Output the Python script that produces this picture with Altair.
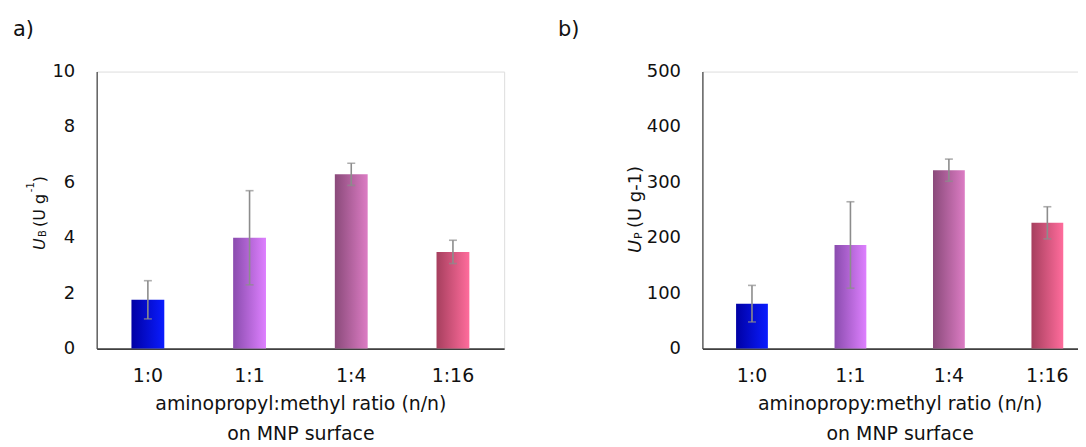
import altair as alt
import pandas as pd

# ---- data ----
cats = ["1:0", "1:1", "1:4", "1:16"]
ub_mean = [1.76, 4.0, 6.29, 3.49]
ub_err = [0.69, 1.70, 0.40, 0.42]
up_mean = [81, 187, 322, 227]
up_err = [33, 78, 20, 29]
ub_ticks = [0, 2, 4, 6, 8, 10]
up_ticks = [0, 100, 200, 300, 400, 500]
grad_left = ["#0000a4", "#8a4cae", "#8a4a7a", "#a63f5e"]
grad_right = ["#0a1cff", "#de80ff", "#dc7cc4", "#ff6c9c"]

FONT = "DejaVu Sans"
TXT = "#111111"


def text_piece(t, x, y, size, style="normal"):
    return alt.Chart(pd.DataFrame({"t": [t]})).mark_text(
        angle=270, align="left", baseline="alphabetic", fontSize=size,
        fontStyle=style, font=FONT, color=TXT
    ).encode(text="t:N", x=alt.value(x), y=alt.value(y))


def panel(mean, err, ticks, width, pieces, letter, letter_x, xtitle):
    df = pd.DataFrame({"cat": cats, "v": mean, "e": err})
    base = alt.Chart(df).transform_calculate(
        lo="datum.v - datum.e", hi="datum.v + datum.e"
    )
    xenc = alt.X(
        "cat:N", sort=cats,
        scale=alt.Scale(paddingInner=0.677, paddingOuter=0.342),
        axis=alt.Axis(title=xtitle, labelAngle=0, ticks=False,
                      domainColor="#404040", domainWidth=1.8,
                      labelPadding=18, titlePadding=9, labelFontSize=19,
                      titleFontSize=19, titleFontWeight="normal",
                      titleLineHeight=30, labelColor=TXT, titleColor=TXT,
                      labelFont=FONT, titleFont=FONT),
    )
    yscale = alt.Scale(domain=[ticks[0], ticks[-1]], nice=False)
    yenc = alt.Y(
        "v:Q", scale=yscale,
        axis=alt.Axis(title=None, values=ticks, grid=False, ticks=False,
                      domainColor="#404040", domainWidth=1.2,
                      labelPadding=22, labelFontSize=18, labelColor=TXT,
                      labelFont=FONT),
    )
    layers = []
    for i, c in enumerate(cats):
        grad = alt.LinearGradient(
            gradient="linear", x1=0, x2=1, y1=0, y2=0,
            stops=[alt.GradientStop(color=grad_left[i], offset=0),
                   alt.GradientStop(color=grad_right[i], offset=1)],
        )
        layers.append(
            base.transform_filter(alt.datum.cat == c)
            .mark_bar(color=grad)
            .encode(x=xenc, y=yenc)
        )
    rule = base.mark_rule(color="#8c8c8c", strokeWidth=1.6).encode(
        x=alt.X("cat:N", sort=cats), y="lo:Q", y2="hi:Q")
    cap_lo = base.mark_tick(color="#8c8c8c", thickness=1.6, size=8).encode(
        x=alt.X("cat:N", sort=cats), y="lo:Q")
    cap_hi = base.mark_tick(color="#8c8c8c", thickness=1.6, size=8).encode(
        x=alt.X("cat:N", sort=cats), y="hi:Q")
    layers += [rule, cap_lo, cap_hi]
    for (t, x, y, s, st) in pieces:
        layers.append(text_piece(t, x, y, s, st))
    lab = alt.Chart(pd.DataFrame({"t": [letter]})).mark_text(
        align="left", baseline="top", fontSize=21, font=FONT, color=TXT
    ).encode(text="t:N", x=alt.value(letter_x), y=alt.value(-53))
    layers.append(lab)
    return alt.layer(*layers).properties(width=width, height=278)


# y-axis title pieces: (text, x, y, size, style), relative to plot origin
left_pieces = [
    ("U", -52, 179, 16, "italic"),
    ("B", -51, 166, 10, "normal"),
    ("(U g", -52, 156, 16, "normal"),
    ("-1", -63, 121, 10, "normal"),
    (")", -52, 111, 16, "normal"),
]
right_pieces = [
    ("U", -62, 182, 18, "italic"),
    ("P", -61, 168, 11, "normal"),
    ("(U g-1)", -62, 157, 18, "normal"),
]

left = panel(ub_mean, ub_err, ub_ticks, 409, left_pieces, "a)", -84,
             ["aminopropyl:methyl ratio (n/n)", "on MNP surface"])
right = panel(up_mean, up_err, up_ticks, 396, right_pieces, "b)", -145,
              ["aminopropy:methyl ratio (n/n)", "on MNP surface"])

chart = alt.hconcat(left, right, spacing=52).properties(
    padding={"left": 4, "top": 9, "right": -20, "bottom": 0}
).configure_view(stroke=None).configure(font=FONT)

chart.save("out.html", embed_options={"renderer": "svg", "actions": False})
